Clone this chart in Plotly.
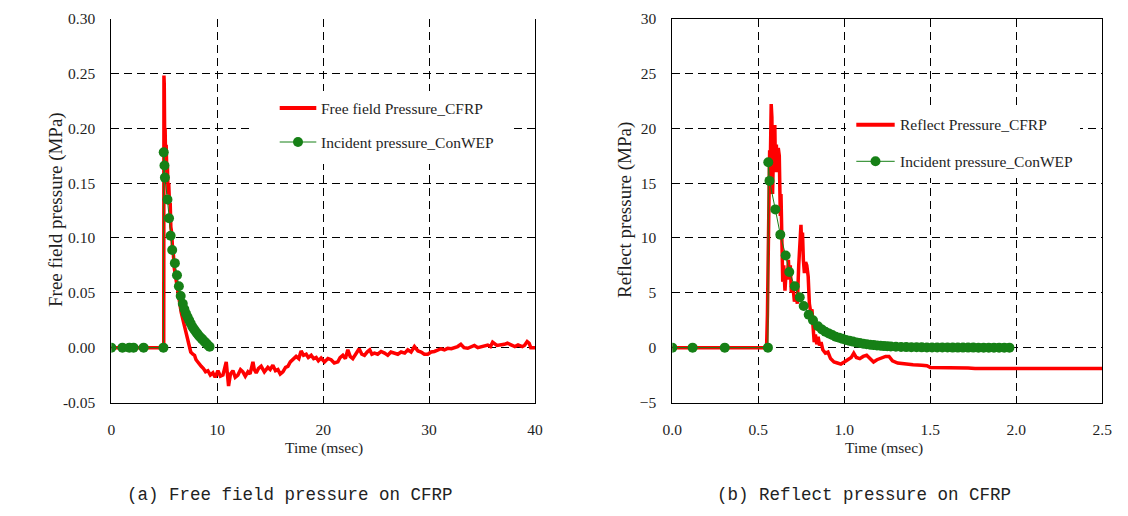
import plotly.graph_objects as go

# ---------------- data ----------------
# (a) Free field pressure on CFRP
t_ff = [0, 4.95, 4.97, 5.00, 5.04, 5.08, 5.13, 5.18, 5.24, 5.30,
        5.36, 5.42, 5.50, 5.56, 5.62, 5.70, 5.78, 5.86, 5.95, 6.05,
        6.15, 6.30, 6.45, 6.60, 6.75, 6.90, 7.05, 7.20, 7.35, 7.50,
        7.70, 7.86, 8.00, 8.20, 8.49, 8.70, 8.90, 9.12, 9.35, 9.59,
        9.80, 10.07, 10.30, 10.54, 10.70, 10.85, 11.00, 11.07, 11.25, 11.48,
        11.70, 11.95, 12.20, 12.42, 12.65, 12.90, 13.10, 13.37, 13.50, 13.68,
        13.90, 14.15, 14.45, 14.78, 15.00, 15.25, 15.50, 15.73, 15.95, 16.20,
        16.45, 16.67, 16.90, 17.14, 17.45, 17.70, 17.92, 18.15, 18.40, 18.60,
        18.87, 19.10, 19.34, 19.55, 19.81, 20.13, 20.45, 20.75, 21.05, 21.39,
        21.60, 21.86, 22.10, 22.33, 22.55, 22.80, 23.10, 23.40, 23.65, 23.90,
        24.15, 24.40, 24.60, 24.85, 25.15, 25.47, 25.80, 26.10, 26.40, 26.74,
        27.05, 27.36, 27.70, 27.99, 28.30, 28.62, 28.95, 29.25, 29.55, 29.88,
        30.20, 30.50, 30.80, 31.13, 31.45, 31.76, 32.10, 32.40, 32.70, 33.00,
        33.30, 33.65, 34.00, 34.28, 34.60, 34.90, 35.20, 35.54, 35.80, 36.00,
        36.40, 36.80, 37.10, 37.40, 37.80, 38.10, 38.40, 38.80, 39.00, 39.26,
        39.45, 39.60, 40.00, 40.40]
p_ff = [0, 0, 0.248, 0.240, 0.190, 0.200, 0.170, 0.185, 0.160, 0.165,
        0.140, 0.150, 0.130, 0.132, 0.110, 0.105, 0.090, 0.085, 0.072, 0.065,
        0.058, 0.048, 0.040, 0.032, 0.026, 0.020, 0.012, 0.006, 0.001, -0.004,
        -0.006, -0.007, -0.011, -0.014, -0.017, -0.019, -0.022, -0.021, -0.025, -0.023,
        -0.027, -0.021, -0.026, -0.025, -0.019, -0.013, -0.028, -0.035, -0.024, -0.021,
        -0.027, -0.025, -0.020, -0.022, -0.026, -0.022, -0.024, -0.013, -0.020, -0.023,
        -0.019, -0.017, -0.022, -0.018, -0.020, -0.016, -0.021, -0.020, -0.024, -0.022,
        -0.018, -0.017, -0.013, -0.011, -0.008, -0.010, -0.003, -0.007, -0.006, -0.009,
        -0.007, -0.010, -0.009, -0.012, -0.0095, -0.013, -0.010, -0.011, -0.014, -0.013,
        -0.009, -0.007, -0.010, -0.002, -0.008, -0.010, -0.005, -0.001, -0.006, -0.007,
        -0.004, -0.002, -0.006, -0.005, -0.006, -0.0035, -0.005, -0.007, -0.004, -0.005,
        -0.006, -0.004, -0.005, -0.002, -0.004, 0.001, -0.003, -0.004, -0.006, -0.006,
        -0.004, -0.0035, -0.002, -0.001, -0.002, -0.0006, -0.001, 0.0, 0.001, 0.003,
        0.0, -0.0006, 0.001, 0.002, 0.0, 0.001, 0.002, 0.0024, 0.001, 0.005,
        0.002, 0.0024, 0.003, 0.004, 0.002, 0.001, 0.0025, 0.001, 0.002, 0.0055,
        0.004, 0.0, 0.0, 0.0]

t_inc_a = [0, 1.05, 1.7, 2.1, 3.05, 4.92, 4.95, 5.02, 5.06, 5.3,
           5.45, 5.6, 5.75, 6.0, 6.2, 6.38, 6.55, 6.75, 6.9, 7.05,
           7.2, 7.35, 7.5, 7.65, 7.8, 7.95, 8.1, 8.25, 8.4, 8.55,
           8.7, 8.85, 9.0, 9.15, 9.28]
p_inc_a = [0, 0, 0, 0, 0, 0, 0.178, 0.166, 0.155, 0.135,
           0.118, 0.102, 0.089, 0.077, 0.066, 0.056, 0.047, 0.040, 0.035, 0.031,
           0.028, 0.025, 0.022, 0.019, 0.017, 0.015, 0.013, 0.011, 0.0095, 0.008,
           0.0065, 0.005, 0.0035, 0.002, 0.0008]

# (b) Reflect pressure on CFRP
t_rf = [0, 0.548, 0.553, 0.558, 0.562, 0.566, 0.570, 0.575, 0.579, 0.583,
        0.587, 0.591, 0.596, 0.600, 0.605, 0.610, 0.616, 0.622, 0.628, 0.632,
        0.636, 0.642, 0.648, 0.655, 0.662, 0.668, 0.675, 0.680, 0.686, 0.692,
        0.700, 0.710, 0.720, 0.727, 0.735, 0.742, 0.748, 0.752, 0.757, 0.762,
        0.768, 0.775, 0.782, 0.790, 0.797, 0.805, 0.812, 0.818, 0.825, 0.832,
        0.840, 0.848, 0.856, 0.865, 0.875, 0.890, 0.905, 0.920, 0.940, 0.960,
        0.980, 1.000, 1.020, 1.040, 1.055, 1.070, 1.090, 1.110, 1.130, 1.150,
        1.170, 1.190, 1.210, 1.240, 1.260, 1.280, 1.310, 1.350, 1.400, 1.450,
        1.480, 1.500, 1.600, 1.700, 1.720, 1.760, 2.000, 2.530]
p_rf = [0, 0, 3, 12, 15, 18, 17, 22.2, 21, 14,
        17, 19, 20.3, 16, 18.5, 16, 18.2, 17.5, 12, 14,
        9, 6, 7.5, 5.2, 7, 6.2, 8, 6.5, 7.5, 5,
        5.8, 4.2, 4.8, 4, 7.5, 10, 11.2, 9.5, 10.5, 8,
        6.8, 7.8, 7.5, 6.5, 4, 3.2, 3.5, 2, 0.5, 1.2,
        0.3, 1.0, 0.2, 0.5, -0.2, -0.5, -0.4, -1.0, -1.3, -1.4,
        -1.5, -1.3, -1.1, -0.9, -0.5, -0.9, -1.0, -0.8, -0.7, -1.0,
        -1.3, -1.1, -1.0, -0.8, -0.8, -1.2, -1.4, -1.5, -1.55, -1.6,
        -1.65, -1.8, -1.8, -1.8, -1.85, -1.9, -1.9, -1.9]

t_inc_b = [0, 0.118, 0.305, 0.556, 0.558, 0.565, 0.599, 0.628, 0.659, 0.680,
           0.712, 0.741, 0.764, 0.793, 0.818, 0.847, 0.87, 0.89, 0.91, 0.93,
           0.95, 0.97, 0.99, 1.01, 1.03, 1.05, 1.07, 1.09, 1.11, 1.13,
           1.15, 1.17, 1.19, 1.21, 1.23, 1.25, 1.27, 1.30, 1.33, 1.36,
           1.39, 1.42, 1.45, 1.48, 1.51, 1.54, 1.57, 1.60, 1.63, 1.66,
           1.69, 1.72, 1.75, 1.78, 1.81, 1.84, 1.87, 1.90, 1.93, 1.96]
p_inc_b = [0, 0, 0, 0, 16.9, 15.2, 12.6, 10.3, 8.4, 6.9,
           5.6, 4.6, 3.8, 3.0, 2.5, 1.95, 1.65, 1.45, 1.3, 1.15,
           1.0, 0.9, 0.8, 0.7, 0.62, 0.55, 0.48, 0.42, 0.36, 0.31,
           0.27, 0.23, 0.2, 0.17, 0.14, 0.12, 0.1, 0.08, 0.06, 0.05,
           0.04, 0.03, 0.025, 0.02, 0.015, 0.01, 0.008, 0.006, 0.005, 0.004,
           0.003, 0.002, 0.002, 0.001, 0.001, 0, 0, 0, 0, 0]

# ticks
xticks_a = [0, 10, 20, 30, 40]
yticks_a = [-0.05, 0.00, 0.05, 0.10, 0.15, 0.20, 0.25, 0.30]
yticklabels_a = ["-0.05", "0.00", "0.05", "0.10", "0.15", "0.20", "0.25", "0.30"]
xticks_b = [0.0, 0.5, 1.0, 1.5, 2.0, 2.5]
xticklabels_b = ["0.0", "0.5", "1.0", "1.5", "2.0", "2.5"]
yticks_b = [-5, 0, 5, 10, 15, 20, 25, 30]

# text
series_names_a = ["Free field Pressure_CFRP", "Incident pressure_ConWEP"]
series_names_b = ["Reflect Pressure_CFRP", "Incident pressure_ConWEP"]
y_titles = ["Free field pressure (MPa)", "Reflect pressure (MPa)"]
x_title = "Time (msec)"
captions = ["(a) Free field pressure on CFRP", "(b) Reflect pressure on CFRP"]

assert len(t_ff) == len(p_ff)
assert len(t_inc_a) == len(p_inc_a)
assert len(t_rf) == len(p_rf)
assert len(t_inc_b) == len(p_inc_b)

# ---------------- styling ----------------
W, H = 1128, 516
RED = "#ff0000"
GREEN = "#168016"
SERIF = "Liberation Serif, 'Times New Roman', Times, serif"
MONO = "Liberation Mono, 'Courier New', Courier, monospace"
TXT = "#1e1e1e"


def px(x):
    return x / W


def py(y):
    return 1 - y / H


fig = go.Figure()
fig.add_trace(go.Scatter(x=t_ff, y=p_ff, mode="lines", name=series_names_a[0],
                         line=dict(color=RED, width=3.5), xaxis="x", yaxis="y",
                         showlegend=False))
fig.add_trace(go.Scatter(x=t_inc_a, y=p_inc_a, mode="lines+markers", name=series_names_a[1],
                         line=dict(color=GREEN, width=1),
                         marker=dict(size=10, color=GREEN),
                         xaxis="x", yaxis="y", showlegend=False))
fig.add_trace(go.Scatter(x=t_rf, y=p_rf, mode="lines", name=series_names_b[0],
                         line=dict(color=RED, width=3.5), xaxis="x2", yaxis="y2",
                         showlegend=False))
fig.add_trace(go.Scatter(x=t_inc_b, y=p_inc_b, mode="lines+markers", name=series_names_b[1],
                         line=dict(color=GREEN, width=1),
                         marker=dict(size=10, color=GREEN),
                         xaxis="x2", yaxis="y2", showlegend=False))

common = dict(showline=True, linecolor="black", linewidth=1,
              showgrid=True, gridcolor="black", gridwidth=1, griddash="8px,5px",
              zeroline=False, ticks="outside", tickcolor="rgba(0,0,0,0)",
              tickfont=dict(family=SERIF, size=15.5, color=TXT),
              automargin=False)

ydom = [py(394.5), py(10.5)]

fig.update_layout(
    width=W, height=H,
    margin=dict(l=0, r=0, t=0, b=0),
    paper_bgcolor="white", plot_bgcolor="white",
    showlegend=False,
    xaxis=dict(common, domain=[px(103.3), px(527.0)], range=[0, 40],
               tickvals=xticks_a, ticklen=13, anchor="y", mirror=False),
    yaxis=dict(common, domain=ydom, range=[-0.05, 0.30],
               tickvals=yticks_a, ticktext=yticklabels_a, ticklen=12,
               anchor="x", mirror=True),
    xaxis2=dict(common, domain=[px(664.3), px(1094.3)], range=[0, 2.5],
                tickvals=xticks_b, ticktext=xticklabels_b, ticklen=13,
                anchor="y2", mirror=True),
    yaxis2=dict(common, domain=ydom, range=[-5, 30],
                tickvals=yticks_b, ticklen=12, anchor="x2", mirror=True),
)

shapes = []
annotations = []

# legend boxes (white, hide grid beneath)
for (x0, x1, y0, y1) in [(243, 503, 83, 156), (838, 1072, 100, 170)]:
    shapes.append(dict(type="rect", xref="paper", yref="paper", layer="above",
                       x0=px(x0), x1=px(x1), y0=py(y1), y1=py(y0),
                       fillcolor="white", line=dict(width=0)))

# legend entries: (line x0, x1, row y red, row y green, text x, names)
for (lx0, lx1, yr, yg, tx, names) in [
        (271.7, 308.3, 100.0, 134.0, 311.0, series_names_a),
        (848.3, 886.7, 116.7, 153.3, 890.0, series_names_b)]:
    shapes.append(dict(type="line", xref="paper", yref="paper", layer="above",
                       x0=px(lx0), x1=px(lx1), y0=py(yr), y1=py(yr),
                       line=dict(color=RED, width=4)))
    shapes.append(dict(type="line", xref="paper", yref="paper", layer="above",
                       x0=px(lx0), x1=px(lx1), y0=py(yg), y1=py(yg),
                       line=dict(color=GREEN, width=1)))
    cx = (lx0 + lx1) / 2
    shapes.append(dict(type="circle", xref="paper", yref="paper", layer="above",
                       x0=px(cx - 5), x1=px(cx + 5), y0=py(yg + 5), y1=py(yg - 5),
                       fillcolor=GREEN, line=dict(width=0)))
    for name, yy in zip(names, [yr, yg]):
        annotations.append(dict(text=name, xref="paper", yref="paper",
                                x=px(tx), y=py(yy), xanchor="left", yanchor="middle",
                                showarrow=False,
                                font=dict(family=SERIF, size=15.5, color=TXT)))

# axis titles
for (xc, ttl) in [(48.0, y_titles[0]), (617.0, y_titles[1])]:
    annotations.append(dict(text=ttl, xref="paper", yref="paper",
                            x=px(xc), y=py(202.0), xanchor="center", yanchor="middle",
                            textangle=-90, showarrow=False,
                            font=dict(family=SERIF, size=19, color=TXT)))
for xc in [316.0, 876.0]:
    annotations.append(dict(text=x_title, xref="paper", yref="paper",
                            x=px(xc), y=py(440.0), xanchor="center", yanchor="middle",
                            showarrow=False,
                            font=dict(family=SERIF, size=15.5, color=TXT)))

# captions
for (xc, cap) in [(281.7, captions[0]), (856.0, captions[1])]:
    annotations.append(dict(text=cap, xref="paper", yref="paper",
                            x=px(xc), y=py(487.0), xanchor="center", yanchor="middle",
                            showarrow=False,
                            font=dict(family=MONO, size=17.5, color="#222222")))

fig.update_layout(shapes=shapes, annotations=annotations)

fig.write_html("out.html")
